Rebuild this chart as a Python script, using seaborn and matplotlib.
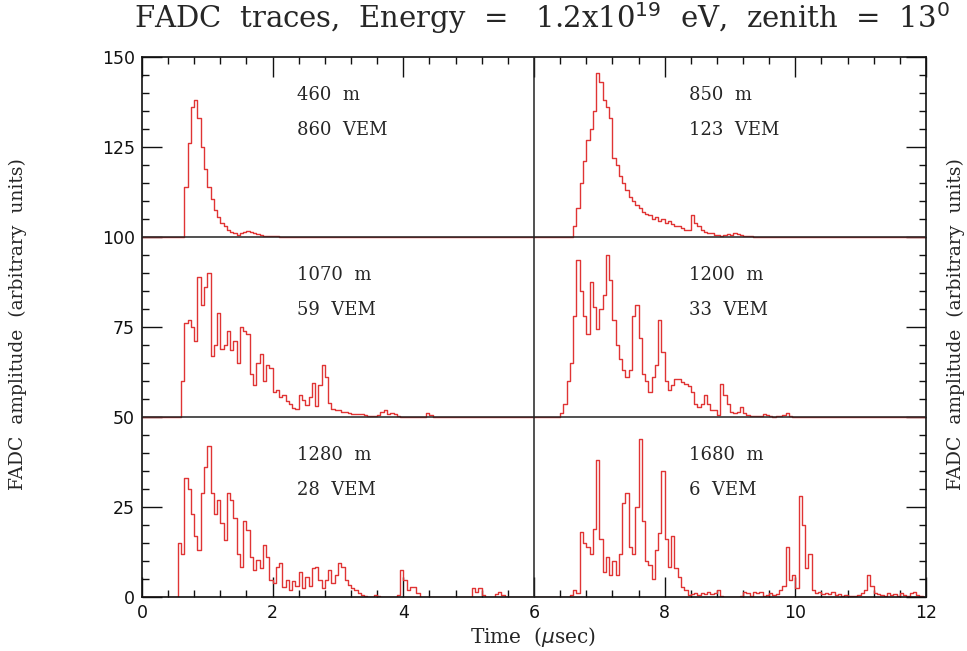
"""FADC traces of six detector stations, stacked on one time axis."""

import numpy as np
import pandas as pd
import matplotlib
matplotlib.use("Agg")
import matplotlib.pyplot as plt
import seaborn as sns
from matplotlib.ticker import MultipleLocator

sns.set_theme(style="ticks")
plt.rcParams["font.family"] = ["DejaVu Serif", "DejaVu Sans"]

BIN = 0.05  # usec per sample (read at this resolution)

# station labels, panel placement (time offset, baseline) and trace start
DISTANCES = ["460  m", "850  m", "1070  m", "1200  m", "1280  m", "1680  m"]
SIGNALS = ["860  VEM", "123  VEM", "59  VEM", "33  VEM", "28  VEM", "6  VEM"]
OFFSETS = [0, 6, 0, 6, 0, 6]
BASELINES = [100, 100, 50, 50, 0, 0]
STARTS = [0.65, 0.60, 0.60, 0.40, 0.50, 0.55]

# amplitudes above baseline, one value per BIN from the trace start
AMP_460 = [14, 26, 36, 38, 33, 25, 19, 14, 10.5, 7.5, 5.5, 4, 3, 2, 1.3, 1, 0.6,
           1.2, 1.5, 1.6, 1.4, 1.2, 0.8, 0.5, 0.4, 0.3, 0.2, 0.2, 0.2, 0.1, 0.1, 0]
AMP_850 = [3, 8, 15, 21, 27, 30, 35, 45.5, 43, 38, 36, 33, 22, 20, 17, 15, 13, 11,
           10, 9, 8, 7, 6.5, 6, 5, 5.5, 4.5, 5, 4, 4.5, 3.5, 3, 3, 2.5, 2, 2, 6, 4,
           3, 2, 1.5, 1, 1, 0.5, 0.5, 0.3, 0.5, 0.8, 0.5, 1, 0.8, 0.5, 0.2, 0.3,
           0.2, 0.1, 0]
AMP_1070 = [10, 26, 27, 25, 21, 39, 31, 36, 40, 17, 20, 29, 19, 20, 24, 18.5, 21,
            15, 25, 24, 23, 12, 9, 15, 17.5, 10, 14.5, 13.5, 7, 7.5, 5.5, 6, 4.5,
            3.7, 2.5, 2.3, 6, 4.6, 3.2, 5.6, 9.5, 3, 9, 14.5, 11, 4, 2.3, 2, 1.9,
            1.4, 1.4, 1.2, 0.9, 0.7, 0.7, 0.9, 0.5, 0.4, 0.4, 0.3, 0.6, 1.5, 1.9,
            0.8, 1.2, 0.9, 0.3, 0, 0, 0, 0, 0, 0, 0, 0, 1.0, 0.6, 0]
AMP_1200 = [1, 3.7, 10, 15, 28, 43.5, 35, 28, 23, 37.5, 30.5, 24.5, 30, 34, 45, 38,
            27, 20, 16, 13, 11, 13, 28, 31, 22, 12, 10, 7, 11, 14.5, 27, 18, 10,
            7.5, 9, 10.5, 10.5, 9.7, 9.3, 8.5, 7, 3.7, 2.8, 3.5, 6, 3.5, 1.9, 1.9,
            0.5, 9.3, 6, 3.7, 1.5, 1, 1.5, 2.8, 1, 0.5, 0.3, 0.2, 0.2, 0.3, 0.9,
            0.5, 0.2, 0.1, 0.2, 0.3, 0.6, 1.1, 0.4, 0]
AMP_1280 = [0, 15, 12, 33, 30, 23, 17, 13, 29, 36, 42, 29, 23, 27, 20.5, 15.8, 28.8,
            27, 22, 12, 8.4, 21, 18.6, 11, 7.5, 10.3, 8, 14.4, 11.2, 4.7, 3.8, 8.4,
            9.4, 2.9, 4.7, 2, 4.5, 3, 7, 2.5, 5.6, 3, 8, 8.4, 4.7, 2.5, 4.7, 7.5,
            3.8, 6, 9.4, 8.4, 4.7, 3.3, 2.5, 2, 1, 0.5, 0.2, 0, 0, 0.5, 0.3, 0, 0,
            0, 0, 0, 0.5, 7.5, 4.7, 2, 2.9, 2.9, 1, 0, 0, 0, 0, 0, 0, 0, 0, 0, 0,
            0, 0, 0, 0, 0, 0, 2.4, 1.5, 2.4, 0.5, 0, 0, 0, 0.8, 1.5, 0.5, 0]
AMP_1680 = [0.5, 2, 1, 18, 15, 14, 12, 19, 38, 16, 7, 11, 6, 10, 6, 12, 26, 29, 14,
            12, 25, 44, 21, 10, 9, 5, 13, 17.7, 35, 16, 8.4, 16.8, 8, 5.5, 2.9, 2,
            0.5, 0.8, 1, 0.5, 1, 0.8, 1.5, 0.8, 1, 2, 0.3, 0, 0, 0, 0, 0, 0.3, 1.5,
            1.2, 0.3, 1.5, 1.2, 1.5, 0.3, 0.5, 1, 0.5, 0.8, 2, 3, 14, 4.7, 6, 2.5,
            28, 20, 8, 12, 2, 1, 1.5, 0.8, 1.2, 0.8, 1.5, 0.5, 0.8, 0.3, 0.5, 0.2,
            0.3, 0.2, 0.5, 1, 2, 6, 3, 1, 0.8, 0.5, 0.3, 1, 0.5, 0.8, 0.3, 1, 0.5,
            0.3, 1, 1.5, 0.5, 0.2, 0]
AMPS = [AMP_460, AMP_850, AMP_1070, AMP_1200, AMP_1280, AMP_1680]

RED = "#e03434"


def build_frame():
    rows = []
    for k, (off, base, t0, amp) in enumerate(zip(OFFSETS, BASELINES, STARTS, AMPS)):
        t = off + t0 + BIN * np.arange(len(amp))
        tt = np.concatenate([[off], t, [off + 6]])
        yy = np.concatenate([[base], base + np.asarray(amp, float), [base]])
        rows.append(pd.DataFrame({"time": tt, "amp": yy, "trace": k}))
    return pd.concat(rows, ignore_index=True)


def main():
    df = build_frame()
    fig = plt.figure(figsize=(9.67, 6.51), dpi=100)
    ax = fig.add_axes([0.1468, 0.083, 0.8108, 0.8294])

    sns.lineplot(data=df, x="time", y="amp", units="trace", estimator=None,
                 drawstyle="steps-post", color=RED, linewidth=1.0, ax=ax)

    # panel dividers
    for yb in (50, 100):
        ax.axhline(yb, color="#222222", lw=1.1, zorder=3)
    ax.axvline(6, color="#222222", lw=1.1, zorder=3)

    for dist, sig, off, base in zip(DISTANCES, SIGNALS, OFFSETS, BASELINES):
        ax.text(off + 2.37, base + 39.5, dist, fontsize=13, va="center", ha="left")
        ax.text(off + 2.37, base + 29.8, sig, fontsize=13, va="center", ha="left")

    ax.set_xlim(0, 12)
    ax.set_ylim(0, 150)
    ax.xaxis.set_major_locator(MultipleLocator(2))
    ax.xaxis.set_minor_locator(MultipleLocator(0.4))
    ax.yaxis.set_major_locator(MultipleLocator(25))
    ax.yaxis.set_minor_locator(MultipleLocator(5))
    ax.tick_params(which="both", direction="in", top=True, right=True,
                   colors="#111111", labelsize=12.5, width=1.0)
    ax.tick_params(which="major", length=14.5, pad=5)
    ax.tick_params(which="minor", length=5)
    for lab in ax.get_xticklabels() + ax.get_yticklabels():
        lab.set_family("DejaVu Sans")
    for s in ax.spines.values():
        s.set_color("#111111")
        s.set_linewidth(1.2)

    ax.set_xlabel("")
    ax.set_ylabel("")
    fig.text(0.551, 0.021, r"Time  ($\mu$sec)", ha="center", va="center",
             fontsize=14.5)
    for xf in (0.019, 0.988):
        fig.text(xf, 0.502, "FADC  amplitude  (arbitrary  units)", rotation=90,
                 ha="center", va="center", fontsize=13.5)
    fig.text(0.56, 0.972,
             r"FADC  traces,  Energy  =   1.2x10$^{19}$  eV,  zenith  =  13$^0$",
             ha="center", va="center", fontsize=21)

    fig.savefig("out.png", dpi=100)
    plt.close(fig)


if __name__ == "__main__":
    main()
